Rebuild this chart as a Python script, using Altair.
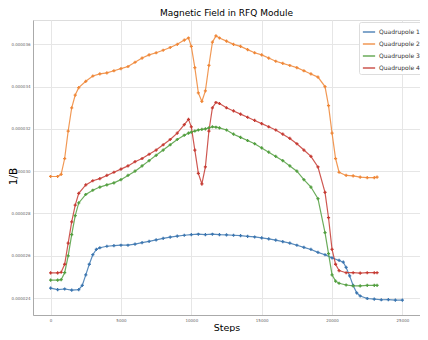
import altair as alt
import pandas as pd

chart_title = "Magnetic Field in RFQ Module"
series_names = ["Quadrupole 1", "Quadrupole 2", "Quadrupole 3", "Quadrupole 4"]
colors = ["#3b75af", "#ef8636", "#519e3e", "#c53a32"]

x_ticks = [0, 5000, 10000, 15000, 20000, 25000]
y_ticks = [24, 26, 28, 30, 32, 34, 36]  # in units of 1e-6

steps_q1 = [0, 500, 1000, 1500, 2000, 2250, 2500, 2750, 3000, 3250, 3500,
            4000, 4500, 5000, 5500, 6000, 6500, 7000, 7500, 8000, 8500, 9000,
            9500, 10000, 10500, 11000, 11500, 12000, 12500, 13000, 13500, 14000,
            14500, 15000, 15500, 16000, 16500, 17000, 17500, 18000, 18500, 19000,
            19500, 20000, 20500, 20800, 21000, 21250, 21500, 21750, 22000, 22500,
            23000, 23500, 24000, 24500, 25000]
q1 = [24.47, 24.40, 24.43, 24.38, 24.40, 24.60, 25.10, 25.60, 26.05, 26.30, 26.38,
      26.45, 26.48, 26.50, 26.50, 26.55, 26.62, 26.68, 26.75, 26.82, 26.88, 26.93,
      26.97, 27.00, 27.02, 27.00, 27.02, 27.00, 26.99, 26.97, 26.95, 26.92,
      26.89, 26.85, 26.80, 26.74, 26.67, 26.60, 26.50, 26.40, 26.30, 26.16,
      26.05, 25.90, 25.78, 25.70, 25.45, 25.05, 24.60, 24.25, 24.10, 23.98,
      23.95, 23.92, 23.93, 23.90, 23.90]

steps_q234 = [0, 500, 750, 1000, 1250, 1500, 1750, 2000, 2500, 3000, 3500, 4000,
              4500, 5000, 5500, 6000, 6500, 7000, 7500, 8000, 8500, 9000, 9500,
              9800, 10000, 10250, 10500, 10750, 11000, 11250, 11500, 11750, 12000,
              12500, 13000, 13500, 14000, 14500, 15000, 15500, 16000, 16500, 17000,
              17500, 18000, 18500, 19000, 19500, 19750, 20000, 20250, 20500, 21000,
              21500, 22000, 22500, 23000, 23200]
q2 = [29.75, 29.75, 29.85, 30.60, 31.90, 33.00, 33.60, 33.95, 34.25, 34.50, 34.60, 34.65,
      34.75, 34.85, 34.95, 35.15, 35.35, 35.50, 35.60, 35.72, 35.85, 36.00, 36.20,
      36.30, 35.90, 34.90, 33.70, 33.30, 33.80, 35.00, 36.10, 36.40, 36.30,
      36.15, 36.00, 35.90, 35.75, 35.60, 35.50, 35.35, 35.20, 35.10, 35.00,
      34.90, 34.75, 34.60, 34.45, 34.00, 33.10, 31.80, 30.60, 29.95, 29.80,
      29.78, 29.72, 29.70, 29.70, 29.72]
q3 = [24.85, 24.85, 24.87, 25.20, 26.00, 27.00, 27.90, 28.50, 28.90, 29.10, 29.25, 29.35,
      29.45, 29.60, 29.80, 30.00, 30.25, 30.50, 30.75, 31.00, 31.25, 31.50, 31.70,
      31.80, 31.85, 31.90, 31.95, 31.98, 32.00, 32.05, 32.10, 32.08, 32.05,
      31.95, 31.75, 31.60, 31.45, 31.30, 31.10, 30.90, 30.70, 30.50, 30.25,
      30.00, 29.60, 29.25, 28.70, 27.10, 26.10, 25.10, 24.80, 24.70, 24.62,
      24.58, 24.58, 24.60, 24.60, 24.60]
q4 = [25.19, 25.19, 25.22, 25.60, 26.60, 27.60, 28.40, 28.95, 29.35, 29.55, 29.65, 29.80,
      29.95, 30.10, 30.25, 30.45, 30.60, 30.80, 31.00, 31.25, 31.50, 31.80, 32.20,
      32.45, 32.10, 31.00, 29.90, 29.40, 30.20, 31.90, 33.00, 33.25, 33.20,
      33.00, 32.85, 32.70, 32.55, 32.40, 32.25, 32.10, 31.95, 31.75, 31.55,
      31.30, 31.00, 30.70, 30.20, 29.00, 27.80, 26.30, 25.60, 25.30, 25.20,
      25.20, 25.18, 25.20, 25.20, 25.20]

rows = []
for name, steps, vals in [(series_names[0], steps_q1, q1),
                          (series_names[1], steps_q234, q2),
                          (series_names[2], steps_q234, q3),
                          (series_names[3], steps_q234, q4)]:
    for s, v in zip(steps, vals):
        rows.append({"series": name, "step": s, "value": v})
df = pd.DataFrame(rows)

FONT = "DejaVu Sans"
W, H = 387, 295
PAD_TOP, PAD_BOTTOM = 12, 17

base = alt.Chart(df).encode(
    x=alt.X("step:Q",
            scale=alt.Scale(domain=[-1250, 26250], nice=False, zero=False),
            axis=alt.Axis(title="Steps", values=x_ticks, format="d",
                          labelFontSize=4, labelColor="#666666", ticks=False,
                          labelPadding=3, titleFontSize=9.5,
                          titleY=15, titleBaseline="alphabetic",
                          titleFont=FONT, labelFont=FONT, titleFontWeight="normal",
                          domainColor="#aaaaaa", gridColor="#e6e6e6")),
    y=alt.Y("value:Q",
            scale=alt.Scale(domain=[23.2, 37.15], nice=False, zero=False),
            axis=alt.Axis(title="1/B", values=y_ticks,
                          labelExpr="format(datum.value * 1e-6, '.6f')",
                          labelFontSize=4, labelColor="#666666", ticks=False,
                          labelPadding=3, titleFontSize=10.5,
                          titleX=-17, titleY=156, titleBaseline="alphabetic",
                          titleAngle=270, titleAlign="center",
                          titleFont=FONT, labelFont=FONT, titleFontWeight="normal",
                          domainColor="#aaaaaa", gridColor="#e6e6e6")),
    color=alt.Color("series:N",
                    scale=alt.Scale(domain=series_names, range=colors),
                    legend=alt.Legend(title=None, orient="none", legendX=326, legendY=2,
                                      symbolType="stroke", symbolSize=150,
                                      symbolStrokeWidth=1.5, labelFontSize=6,
                                      labelFont=FONT, labelColor="#333333",
                                      rowPadding=2, padding=3, labelOffset=3,
                                      fillColor="white", strokeColor="#dddddd",
                                      cornerRadius=2)),
)

lines = base.mark_line(strokeWidth=1.2, opacity=0.85)
pts = base.mark_point(shape="cross", filled=True, size=10, opacity=1)

chart = alt.layer(lines, pts).properties(
    width=W, height=H,
    padding={"left": 25, "top": PAD_TOP, "right": 0, "bottom": PAD_BOTTOM},
    autosize=alt.AutoSizeParams(type="none"),
    title=alt.TitleParams(chart_title, fontSize=9, font=FONT, fontWeight="normal",
                          color="black", offset=2, anchor="middle"),
).configure_view(stroke="#cccccc", strokeWidth=1).configure(background="white")

chart.save("out.html", embed_options={"renderer": "svg", "actions": False})
